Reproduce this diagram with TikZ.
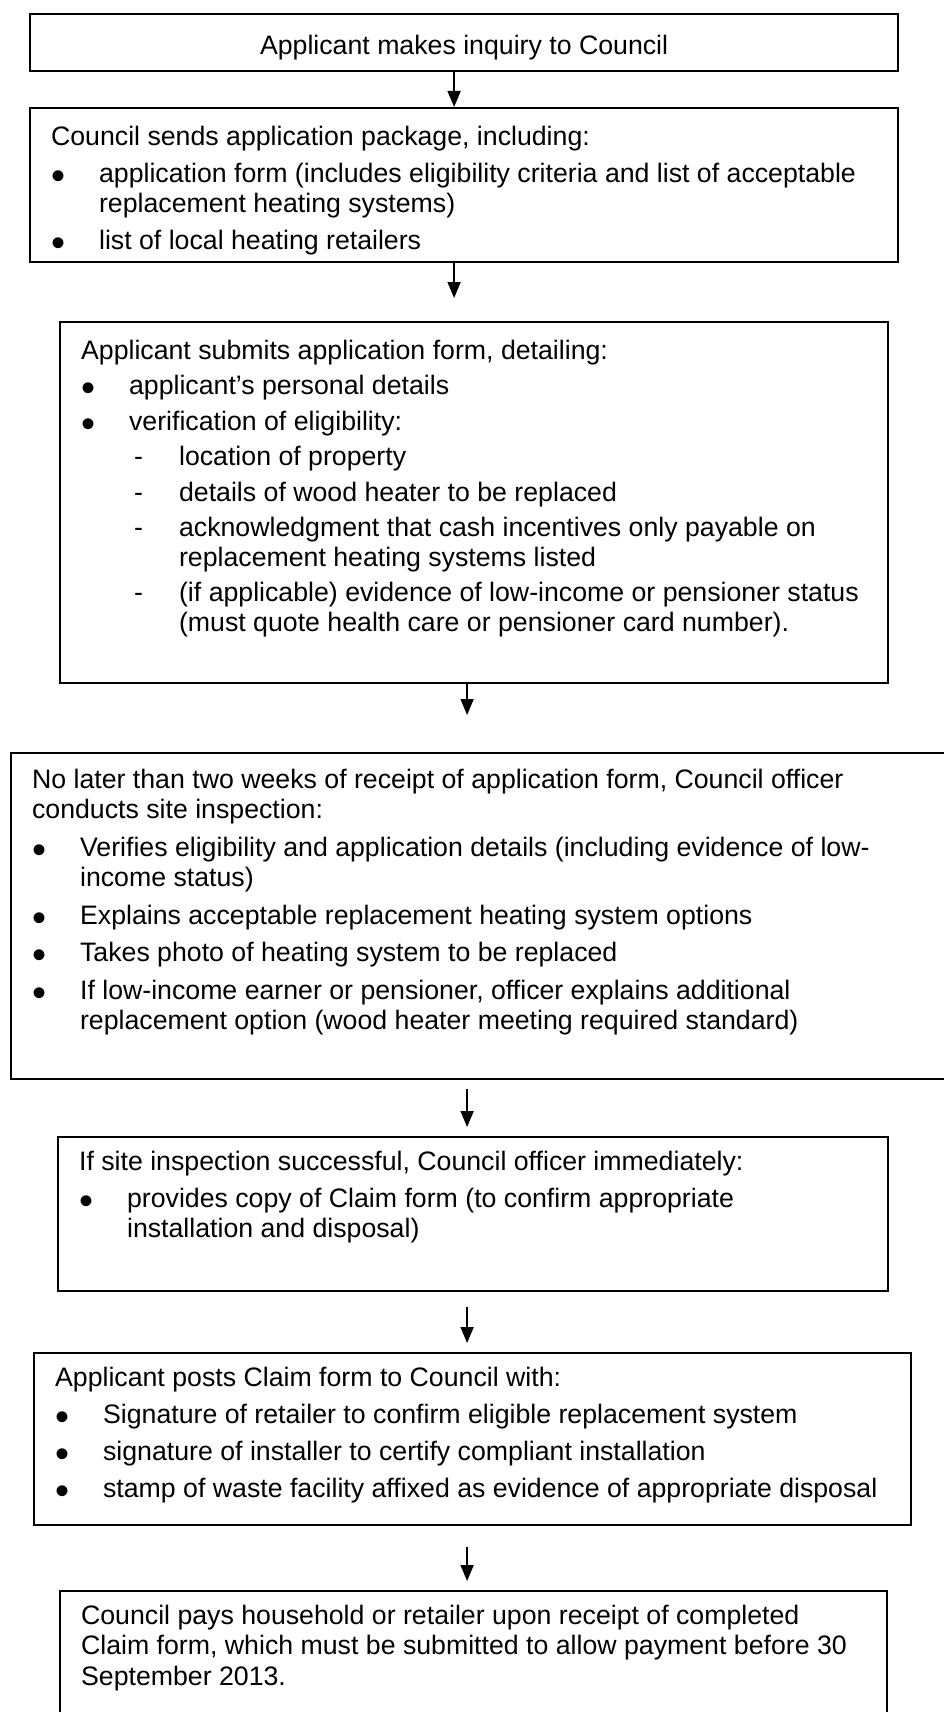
\documentclass[tikz,border=0pt]{standalone}
\usepackage{fontspec}
\setmainfont{Liberation Sans}
\usetikzlibrary{arrows.meta}

\newlength{\flowgap}
\setlength{\flowgap}{6.5pt}
\newcommand{\flowtext}[4]{\parbox[t][#2][t]{#1}{\raggedright\rule{0pt}{#3}#4}}
\newcommand{\flowbullet}{\par\vspace{\flowgap}\hangindent=48pt\hangafter=1\noindent\makebox[48pt][l]{\raisebox{-7pt}{\scalebox{1.5}{\textbullet}}}}
\newcommand{\flowdash}{\par\vspace{\flowgap}\hangindent=98pt\hangafter=1\noindent\makebox[98pt][l]{\hspace{53pt}-}}

\begin{document}
\begin{tikzpicture}[x=1pt,y=-1pt,
  flowbox/.style={draw,line width=2.2pt,anchor=north west,inner xsep=21pt,inner ysep=0pt,
    font=\fontsize{26.7pt}{30.5pt}\selectfont},
  flowarrow/.style={line width=1.6pt,-{Triangle[length=16pt,width=13pt]}}]
\useasboundingbox (0,0) rectangle (943,1712);
\node[flowbox] (inq) at (29,13) {\flowtext{826pt}{57pt}{40pt}{\centering Applicant makes inquiry to Council}};
\node[flowbox] (pack) at (29,107) {\flowtext{826pt}{154pt}{37pt}{Council sends application package, including:
  \flowbullet application form (includes eligibility criteria and list of acceptable\newline replacement heating systems)
  \flowbullet list of local heating retailers}};
\node[flowbox] (form) at (59,321) {\flowtext{786pt}{361pt}{37pt}{\setlength{\flowgap}{6pt}\fontsize{26.7pt}{29.5pt}\selectfont
  Applicant submits application form, detailing:
  \flowbullet applicant's personal details
  \flowbullet verification of eligibility:
  \flowdash location of property
  \flowdash details of wood heater to be replaced
  \flowdash acknowledgment that cash incentives only payable on\newline replacement heating systems listed
  \flowdash (if applicable) evidence of low-income or pensioner status\newline (must quote health care or pensioner card number).}};
\node[flowbox] (insp) at (10,752) {\flowtext{908pt}{326pt}{35pt}{\setlength{\flowgap}{7pt}%
  No later than two weeks of receipt of application form, Council officer\newline conducts site inspection:
  \flowbullet Verifies eligibility and application details (including evidence of low-\newline income status)
  \flowbullet Explains acceptable replacement heating system options
  \flowbullet Takes photo of heating system to be replaced
  \flowbullet If low-income earner or pensioner, officer explains additional\newline replacement option (wood heater meeting required standard)}};
\node[flowbox] (claim) at (57,1136) {\flowtext{788pt}{154pt}{33pt}{If site inspection successful, Council officer immediately:
  \flowbullet provides copy of Claim form (to confirm appropriate\newline installation and disposal)}};
\node[flowbox] (post) at (33,1352) {\flowtext{835pt}{172pt}{33pt}{Applicant posts Claim form to Council with:
  \flowbullet Signature of retailer to confirm eligible replacement system
  \flowbullet signature of installer to certify compliant installation
  \flowbullet stamp of waste facility affixed as evidence of appropriate disposal}};
\node[flowbox] (pay) at (59,1590) {\flowtext{785pt}{150pt}{33pt}{Council pays household or retailer upon receipt of completed\newline Claim form, which must be submitted to allow payment before 30\newline September 2013.}};
\draw[flowarrow] ([xshift=-10pt]inq.south) -- ([xshift=-10pt]pack.north);
\draw[flowarrow,shorten >=23pt] ([xshift=-10pt]pack.south) -- ([xshift=-20pt]form.north);
\draw[flowarrow,shorten >=37pt] ([xshift=-7pt]form.south) -- ([xshift=-19pt]insp.north);
\draw[flowarrow,shorten <=9pt,shorten >=9pt] ([xshift=-19pt]insp.south) -- ([xshift=-6pt]claim.north);
\draw[flowarrow,shorten <=15pt,shorten >=9pt] ([xshift=-6pt]claim.south) -- ([xshift=-5.5pt]post.north);
\draw[flowarrow,shorten <=21pt,shorten >=9pt] ([xshift=-5.5pt]post.south) -- ([xshift=-6.5pt]pay.north);
\end{tikzpicture}
\end{document}
